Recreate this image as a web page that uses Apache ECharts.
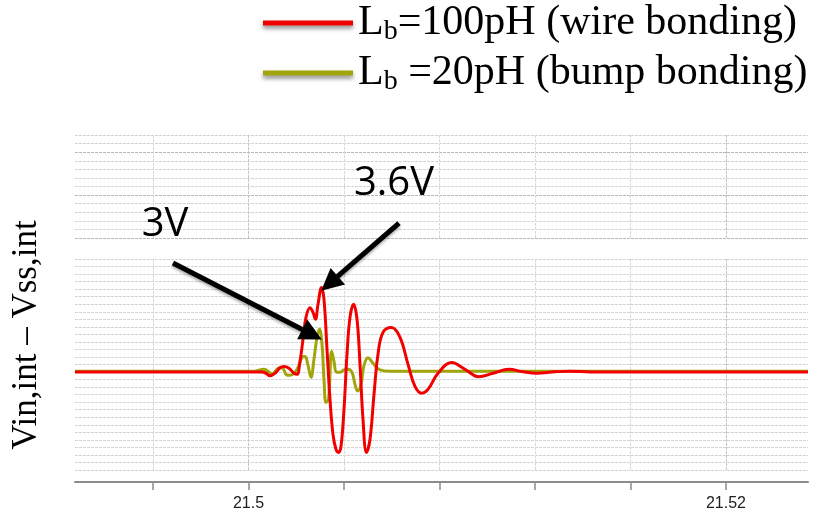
<!DOCTYPE html>
<html><head><meta charset="utf-8">
<script src="https://cdn.jsdelivr.net/npm/echarts@6/dist/echarts.min.js"></script>
<style>html,body{margin:0;padding:0;background:#fff}#c{width:817px;height:517px}</style>
</head><body><div id="c"></div>
<script>
const seriesNames = ['Lb=100pH (wire bonding)', 'Lb =20pH (bump bonding)'];
const xMin = 21.492733, xMax = 21.523435;
const xTicks = [21.496, 21.5, 21.504, 21.508, 21.512, 21.516, 21.52];
const xLabels = [21.5, 21.52];
const yAxisTitle = 'Vin,int \u2013 Vss,int';

const wireBonding = [[21.492733, 2.5], [21.500565, 2.5], [21.500733, 2.483], [21.500901, 2.45], [21.50111, 2.483], [21.501319, 2.556], [21.501487, 2.572], [21.501696, 2.549], [21.501906, 2.483], [21.502031, 2.469], [21.502157, 2.642], [21.502283, 2.934], [21.502408, 3.226], [21.502576, 3.353], [21.502702, 3.293], [21.502806, 3.2], [21.502911, 3.399], [21.503058, 3.621], [21.503162, 3.465], [21.503288, 2.801], [21.503414, 2.137], [21.503539, 1.672], [21.503665, 1.473], [21.50377, 1.433], [21.503874, 1.513], [21.504, 2.005], [21.504126, 2.735], [21.504251, 3.226], [21.504398, 3.399], [21.504545, 3.2], [21.50467, 2.602], [21.504796, 1.871], [21.504942, 1.433], [21.505089, 1.606], [21.505257, 2.204], [21.505424, 2.735], [21.505634, 3.027], [21.50599, 3.09], [21.506346, 2.961], [21.506681, 2.602], [21.506974, 2.31], [21.507254, 2.22], [21.507518, 2.27], [21.507937, 2.483], [21.508503, 2.625], [21.509068, 2.536], [21.509634, 2.439], [21.510241, 2.483], [21.510911, 2.536], [21.511497, 2.503], [21.512071, 2.483], [21.512838, 2.503], [21.513466, 2.512], [21.514304, 2.5], [21.523435, 2.5]];

const bumpBonding = [[21.492733, 2.512], [21.500272, 2.512], [21.500482, 2.529], [21.500649, 2.536], [21.500817, 2.509], [21.500984, 2.476], [21.501236, 2.549], [21.501403, 2.558], [21.501592, 2.463], [21.501738, 2.456], [21.501948, 2.496], [21.502115, 2.589], [21.502241, 2.695], [21.502367, 2.705], [21.502492, 2.589], [21.502618, 2.43], [21.502743, 2.669], [21.502869, 2.961], [21.502974, 3.067], [21.503079, 2.868], [21.503162, 2.403], [21.503246, 2.097], [21.503351, 2.137], [21.503485, 2.775], [21.503581, 2.642], [21.503686, 2.496], [21.503832, 2.496], [21.504, 2.529], [21.504168, 2.536], [21.504335, 2.496], [21.504461, 2.337], [21.504565, 2.248], [21.504712, 2.337], [21.504838, 2.589], [21.505005, 2.691], [21.505215, 2.616], [21.505508, 2.529], [21.505927, 2.512], [21.523435, 2.512]];

// annotation arrows: [tail, head] in data space; labels
const arrowPeakWire = [[21.506304, 4.477], [21.503393, 3.676]];
const arrowPeakBump = [[21.496838, 3.946], [21.50266, 2.999]];
const labelPeakWire = {text: '3.6V', at: [21.506094, 4.995]};
const labelPeakBump = {text: '3V', at: [21.496503, 4.451]};

const gridLineLight = '#d4d4d4';
const chart = echarts.init(document.getElementById('c'));
const serif = 'Liberation Serif';

function legendFmt(name) {
  return '{m|' + name.slice(0, 1) + '}{s|' + name.slice(1, 2) + '}{m|' + name.slice(2) + '}';
}

chart.setOption({
  animation: false,
  backgroundColor: '#fff',
  legend: {
    data: seriesNames,
    orient: 'vertical',
    left: 263, top: 2, padding: 0,
    itemWidth: 90, itemHeight: 5, itemGap: 6,
    icon: 'rect',
    selectedMode: false,
    itemStyle: {shadowBlur: 4, shadowColor: 'rgba(0,0,0,0.45)', shadowOffsetY: 3},
    formatter: legendFmt,
    textStyle: {
      fontFamily: serif, fontSize: 42, color: '#000',
      rich: {
        m: {fontFamily: serif, fontSize: 42, color: '#000', lineHeight: 46},
        s: {fontFamily: serif, fontSize: 28, color: '#000', lineHeight: 24, verticalAlign: 'bottom'}
      }
    }
  },
  graphic: [{
    type: 'text', x: 27, y: 335, rotation: Math.PI / 2,
    style: {text: yAxisTitle, font: '35px "Liberation Serif"', fill: '#000', align: 'center', verticalAlign: 'middle'}
  }],
  grid: [
    {left: 75, right: 9, top: 135, bottom: 279},
    {left: 75, right: 9, top: 259, bottom: 47},
    {left: 75, right: 9, top: 123.36, bottom: 47}
  ],
  xAxis: [
    {type: 'value', gridIndex: 0, min: xMin, max: xMax,
     axisLine: {show: false}, axisTick: {show: false, customValues: xTicks}, axisLabel: {show: false},
     splitLine: {show: true, lineStyle: {color: ['#d8d8d8', '#c4c4c4', '#d8d8d8', '#d8d8d8', '#d8d8d8'], type: [3, 1], width: 1}}},
    {type: 'value', gridIndex: 1, min: xMin, max: xMax, offset: 12,
     axisLine: {show: true, onZero: false, lineStyle: {color: '#8c8c8c', width: 2}},
     axisTick: {show: true, customValues: xTicks, length: 8, lineStyle: {color: '#8c8c8c', width: 1.5}},
     axisLabel: {show: true, customValues: xLabels, margin: 14, fontFamily: 'Liberation Sans', fontSize: 16, color: '#222',
       formatter: v => String(+v.toFixed(3))},
     splitLine: {show: true, lineStyle: {color: ['#d8d8d8', '#c4c4c4', '#d8d8d8', '#d8d8d8', '#d8d8d8'], type: [3, 1], width: 1}}},
    {type: 'value', gridIndex: 2, min: xMin, max: xMax, show: false}
  ],
  yAxis: [
    {type: 'value', gridIndex: 0, min: 0, max: 12, interval: 1,
     axisLine: {show: false}, axisTick: {show: false}, axisLabel: {show: false},
     splitLine: {show: true, lineStyle: {color: ['#b8b8b8', gridLineLight, gridLineLight, gridLineLight, gridLineLight], type: [3, 1], width: 1}}},
    {type: 'value', gridIndex: 1, min: 1.2, max: 4.0, interval: 0.1,
     axisLine: {show: false}, axisTick: {show: false}, axisLabel: {show: false},
     splitLine: {show: true, lineStyle: {color: gridLineLight, type: [3, 1], width: 1}}},
    {type: 'value', gridIndex: 2, min: 1.2, max: 5.8, show: false}
  ],
  series: [
    {name: seriesNames[0], type: 'line', xAxisIndex: 1, yAxisIndex: 1, data: wireBonding,
     smooth: 0.4, symbol: 'none', z: 3, color: '#f20000',
     lineStyle: {color: '#f20000', width: 3}},
    {name: seriesNames[1], type: 'line', xAxisIndex: 1, yAxisIndex: 1, data: bumpBonding,
     smooth: 0.4, symbol: 'none', z: 2, color: '#a0a50c',
     lineStyle: {color: '#a0a50c', width: 3}},
    {name: 'annotations', type: 'line', xAxisIndex: 2, yAxisIndex: 2, data: [], z: 5, clip: false,
     markLine: {
       silent: true, symbol: ['none', 'triangle'], symbolSize: 22, precision: 6,
       label: {show: false},
       lineStyle: {color: '#000', width: 5, type: 'solid', shadowBlur: 3, shadowColor: 'rgba(0,0,0,0.35)', shadowOffsetY: 2},
       emphasis: {disabled: true},
       data: [
         [{coord: arrowPeakWire[0]}, {coord: arrowPeakWire[1]}],
         [{coord: arrowPeakBump[0]}, {coord: arrowPeakBump[1]}]
       ]
     },
     markPoint: {
       silent: true, symbol: 'circle', symbolSize: 1, itemStyle: {color: 'rgba(0,0,0,0)'},
       label: {show: true, position: 'inside', formatter: '{b}', fontFamily: 'Open Sans', fontSize: 40, color: '#000'},
       data: [
         {name: labelPeakWire.text, coord: labelPeakWire.at},
         {name: labelPeakBump.text, coord: labelPeakBump.at}
       ]
     }}
  ]
});
</script></body></html>
